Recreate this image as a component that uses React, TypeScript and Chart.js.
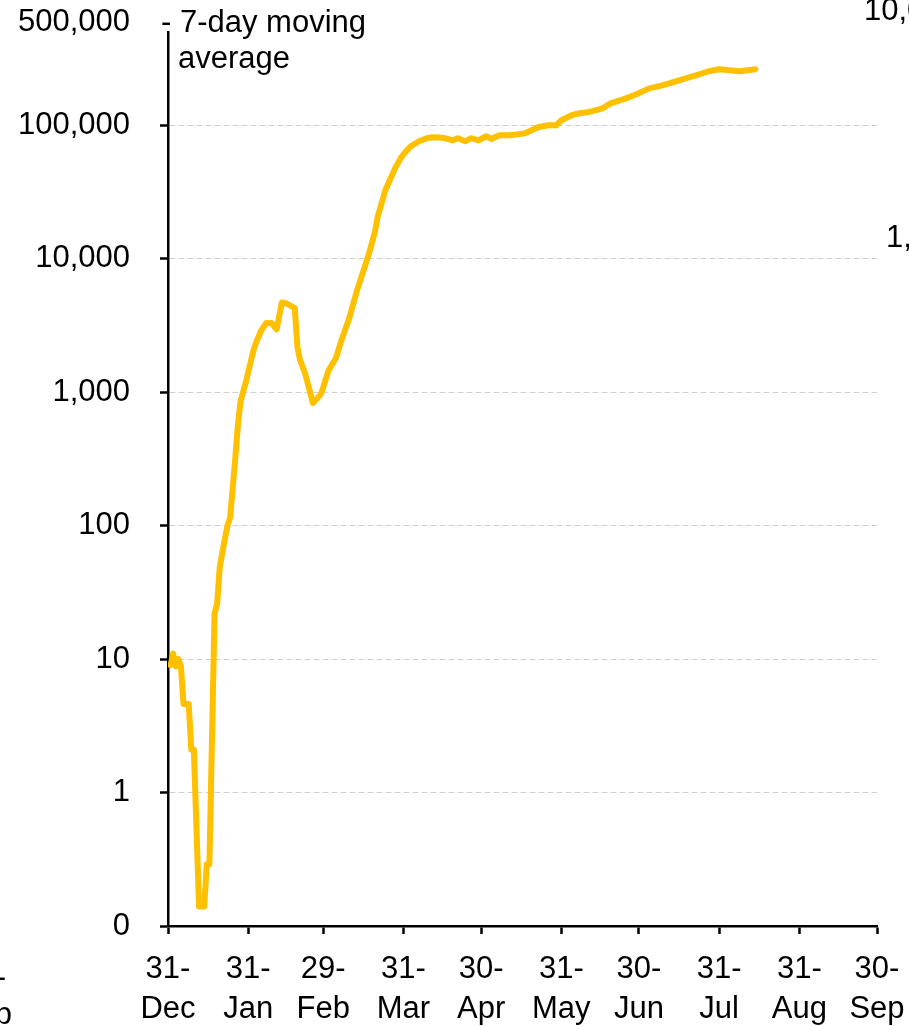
import React, { useEffect, useRef } from "react";
import { Chart, registerables } from "chart.js";

Chart.register(...registerables);

// Days since 31-Dec
const days = [
  1, 2, 3, 4, 5, 6, 8, 9, 10, 12, 14, 15, 16, 18, 19, 20, 22, 23, 24, 25, 26, 27, 28, 30,
  33, 34, 36, 38, 40, 42, 44, 46, 49, 50, 51, 53, 56, 59, 60, 62, 65, 67, 70, 73, 76, 78,
  80, 81, 84, 88, 90, 92, 94, 97, 100, 102, 105, 107, 110, 112, 115, 117, 120, 123, 125,
  128, 132, 135, 138, 143, 147, 150, 152, 156, 159, 162, 168, 171, 177, 181, 186, 191,
  195, 200, 204, 209, 213, 217, 221, 227,
];

// 7-day moving average values
const movingAverage = [
  9, 11, 8.8, 10, 8.8, 4.6, 4.6, 2.1, 2.1, 0.14, 0.14, 0.29, 0.29, 22, 26, 49, 80, 100, 115,
  190, 320, 560, 850, 1170, 2050, 2340, 2900, 3300, 3300, 2960, 4700, 4600, 4260, 2200, 1750,
  1380, 830, 960, 1090, 1450, 1820, 2440, 3560, 5740, 8650, 11500, 16000, 20500, 32600, 48600,
  57000, 64000, 70000, 76000, 80000, 81300, 81000, 80000, 77200, 80000, 75900, 80000, 77200,
  82700, 79000, 84100, 84100, 85500, 87100, 96600, 100000, 100000, 109000, 119000, 123000,
  125000, 134000, 146000, 159000, 171000, 189000, 199000, 210000, 225000, 237000, 254000,
  263000, 258000, 254000, 263000,
];

const xTickDays = [0, 31, 60, 91, 121, 152, 182, 213, 244, 274];
const xTickLabels = [
  ["31-", "Dec"], ["31-", "Jan"], ["29-", "Feb"], ["31-", "Mar"], ["30-", "Apr"],
  ["31-", "May"], ["30-", "Jun"], ["31-", "Jul"], ["31-", "Aug"], ["30-", "Sep"],
];

const yTickValues = [0.1, 1, 10, 100, 1000, 10000, 100000, 500000];
const yTickLabels = ["0", "1", "10", "100", "1,000", "10,000", "100,000", "500,000"];

const seriesLabel = ["- 7-day moving", "average"];

const FONT = "'Liberation Sans', sans-serif";
const FONT_SIZE = 31;

const textPlugin = {
  id: "texts",
  afterDraw(chart: any) {
    const ctx = chart.ctx;
    ctx.save();
    ctx.fillStyle = "#000";
    ctx.font = `${FONT_SIZE}px ${FONT}`;
    ctx.textBaseline = "middle";
    ctx.textAlign = "left";
    ctx.fillText(seriesLabel[0], 161, 23);
    ctx.fillText(seriesLabel[1], 178, 59);
    // fragments of neighbouring charts cut off at the picture edges
    ctx.fillText("10,000", 864, 11);
    ctx.fillText("1,000", 886, 238);
    ctx.textAlign = "right";
    ctx.fillText("30-", 6, 978);
    ctx.fillText("Sep", 12, 1015);
    ctx.restore();
  },
};

const zeroPadding = (scale: any) => {
  scale.paddingTop = 0;
  scale.paddingBottom = 0;
  scale.paddingLeft = 0;
  scale.paddingRight = 0;
};

export default function App() {
  const canvasRef = useRef<HTMLCanvasElement | null>(null);

  useEffect(() => {
    document.body.style.margin = "0";
    const canvas = canvasRef.current;
    if (!canvas) return;
    const chart = new Chart(canvas, {
      type: "line",
      data: {
        datasets: [
          {
            label: "7-day moving average",
            data: days.map((d, i) => ({ x: d, y: movingAverage[i] })),
            borderColor: "#FFC000",
            backgroundColor: "#FFC000",
            borderWidth: 6,
            pointRadius: 0,
            tension: 0,
            borderJoinStyle: "round",
            borderCapStyle: "round",
          },
        ],
      },
      options: {
        animation: false,
        responsive: false,
        maintainAspectRatio: false,
        layout: { padding: { top: 32, right: 32, left: 0, bottom: 0 } },
        plugins: {
          legend: { display: false },
          tooltip: { enabled: false },
        },
        scales: {
          x: {
            type: "linear",
            min: 0,
            max: 274,
            afterBuildTicks: (scale: any) => {
              scale.ticks = xTickDays.map((v) => ({ value: v }));
            },
            afterFit: (scale: any) => {
              scale.height = 100;
              zeroPadding(scale);
            },
            ticks: {
              autoSkip: false,
              maxRotation: 0,
              minRotation: 0,
              padding: 15,
              color: "#000",
              font: { family: FONT, size: FONT_SIZE, lineHeight: "40px" },
              callback: (value: any) => {
                const i = xTickDays.indexOf(Number(value));
                return i >= 0 ? xTickLabels[i] : "";
              },
            },
            grid: {
              drawOnChartArea: false,
              drawTicks: true,
              tickLength: 8,
              tickColor: "#000",
              tickWidth: 2.5,
            },
            border: { display: true, color: "#000", width: 2.5 },
          },
          y: {
            type: "logarithmic",
            min: 0.1,
            max: 500000,
            afterBuildTicks: (scale: any) => {
              scale.ticks = yTickValues.map((v) => ({ value: v }));
            },
            afterFit: (scale: any) => {
              scale.width = 168;
              zeroPadding(scale);
            },
            ticks: {
              autoSkip: false,
              padding: 30,
              color: "#000",
              font: { family: FONT, size: FONT_SIZE, lineHeight: "20px" },
              callback: (value: any) => {
                const i = yTickValues.indexOf(Number(value));
                if (i < 0) return "";
                if (yTickValues[i] === 500000) return [yTickLabels[i], ""];
                return yTickLabels[i];
              },
            },
            grid: {
              drawOnChartArea: true,
              drawTicks: true,
              tickLength: 8,
              lineWidth: 1,
              tickWidth: 2.5,
              color: (ctx: any) => {
                const v = ctx.tick ? ctx.tick.value : null;
                return v === 0.1 || v === 500000 ? "rgba(0,0,0,0)" : "#D0D0D0";
              },
              tickColor: (ctx: any) => {
                const v = ctx.tick ? ctx.tick.value : null;
                return v === 500000 ? "rgba(0,0,0,0)" : "#000";
              },
            },
            border: { display: true, color: "#000", width: 2.5, dash: [6, 3] },
          },
        },
      } as any,
      plugins: [textPlugin],
    });
    return () => chart.destroy();
  }, []);

  return (
    <div style={{ width: 909, height: 1026 }}>
      <canvas ref={canvasRef} width={909} height={1026} style={{ display: "block" }} />
    </div>
  );
}
